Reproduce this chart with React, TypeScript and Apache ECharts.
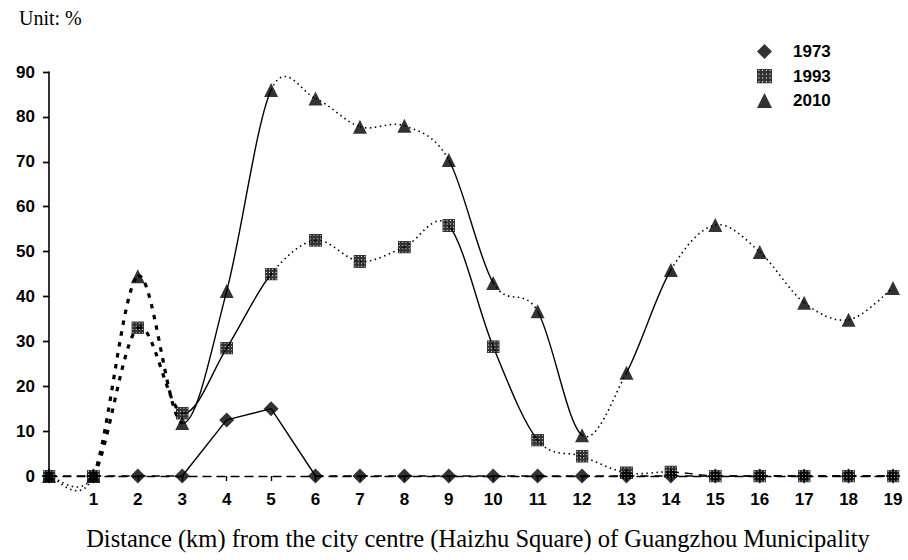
import React, { useEffect, useRef } from "react";
import * as echarts from "echarts";

// Distance from city centre (km)
const distances = [0, 1, 2, 3, 4, 5, 6, 7, 8, 9, 10, 11, 12, 13, 14, 15, 16, 17, 18, 19];
// Share (%) per year
const v1973 = [0, 0, 0, 0, 12.5, 15, 0, 0, 0, 0, 0, 0, 0, 0, 0, 0, 0, 0, 0, 0];
const v1993 = [0, 0, 33, 14, 28.5, 45, 52.5, 47.8, 51, 55.8, 28.8, 8, 4.4, 0.7, 0.9, 0, 0, 0, 0, 0];
const v2010 = [0, 0, 44.5, 11.8, 41.2, 86, 84.1, 77.8, 78, 70.4, 43, 36.7, 9.1, 23, 45.9, 55.9, 49.9, 38.6, 34.8, 41.9];
// line style of each segment (between point i and i+1)
const seg1973 = ["dash", "dash", "dash", "solid", "solid", "solid", "dash", "dash", "dash", "dash", "dash", "dash", "dash", "dash", "dash", "dash", "dash", "dash", "dash"];
const seg1993 = ["dot", "thick", "thick", "solid", "solid", "dot", "dot", "dot", "dot", "solid", "solid", "dot", "dot", "dot", "dash", "dash", "dash", "dash", "dash"];
const seg2010 = ["dot", "thick", "thick", "solid", "solid", "dot", "dot", "dot", "dot", "solid", "dot", "solid", "dot", "solid", "dot", "dot", "dot", "dot", "dot"];
const years = ["1973", "1993", "2010"];
const yTicks = { min: 0, max: 90, interval: 10 };

const LINE_STYLES: Record<string, { w: number; dash: number[] | null }> = {
  solid: { w: 1.4, dash: null },
  dash: { w: 1.4, dash: [8, 6] },
  dot: { w: 1.6, dash: [1.5, 3.5] },
  thick: { w: 3.2, dash: [4.5, 6.5] },
};

function patternSquare(): string {
  let s = "<svg xmlns='http://www.w3.org/2000/svg' width='12' height='12'><rect width='12' height='12' fill='#000'/>";
  for (let y = 1.5; y < 12; y += 3) {
    for (let x = 1.5; x < 12; x += 3) {
      s += `<circle cx='${x}' cy='${y}' r='0.5' fill='#fff'/>`;
    }
  }
  s += "</svg>";
  return "image://data:image/svg+xml;utf8," + encodeURIComponent(s);
}

function curveSeries(name: string, vals: number[], styles: string[], smooth: boolean) {
  const n = vals.length;
  return {
    type: "custom",
    name,
    silent: true,
    clip: false,
    z: 2,
    data: distances.map((d, i) => [d, vals[i]]),
    encode: { x: 0, y: 1 },
    renderItem: (params: any, api: any) => {
      const i = params.dataIndex;
      if (i >= n - 1) return null;
      const p = (k: number) => {
        const kk = Math.max(0, Math.min(n - 1, k));
        return api.coord([distances[kk], vals[kk]]);
      };
      const p0 = p(i - 1), p1 = p(i), p2 = p(i + 1), p3 = p(i + 2);
      const t = smooth ? 1 / 6 : 0;
      const st = LINE_STYLES[styles[i]];
      return {
        type: "bezierCurve",
        shape: {
          x1: p1[0], y1: p1[1], x2: p2[0], y2: p2[1],
          cpx1: p1[0] + (p2[0] - p0[0]) * t, cpy1: p1[1] + (p2[1] - p0[1]) * t,
          cpx2: p2[0] - (p3[0] - p1[0]) * t, cpy2: p2[1] - (p3[1] - p1[1]) * t,
        },
        style: { stroke: "#000", fill: null, lineWidth: st.w, lineDash: st.dash },
      };
    },
  };
}

export default function App() {
  const ref = useRef<HTMLDivElement>(null);
  useEffect(() => {
    if (!ref.current) return;
    const chart = echarts.init(ref.current, null, { renderer: "svg" });
    const sq = patternSquare();
    const sans = "Liberation Sans, Arial, sans-serif";
    const serif = "Liberation Serif, Times New Roman, serif";
    const xBase = { type: "value", min: 0, max: 19, interval: 1, splitLine: { show: false } };
    const yBase = { type: "value", ...yTicks, splitLine: { show: false } };
    chart.setOption({
      animation: false,
      backgroundColor: "#fff",
      title: {
        text: "Unit: %",
        left: 14,
        top: 3,
        textStyle: { fontFamily: serif, fontSize: 20, fontWeight: "normal", color: "#000" },
      },
      legend: {
        orient: "vertical",
        left: 752,
        top: 38,
        itemWidth: 15,
        itemHeight: 15,
        itemGap: 7.5,
        selectedMode: false,
        textStyle: { fontFamily: sans, fontSize: 17, fontWeight: "bold", color: "#000", padding: [0, 0, 0, 16] },
        data: [
          { name: years[0], icon: "diamond" },
          { name: years[1], icon: sq },
          { name: years[2], icon: "triangle" },
        ],
      },
      grid: { left: 49, right: 15, top: 72, bottom: 84, containLabel: false },
      xAxis: [
        {
          ...xBase,
          name: "Distance (km) from the city centre (Haizhu Square) of Guangzhou Municipality",
          nameLocation: "middle",
          nameGap: 50,
          nameTextStyle: { fontFamily: serif, fontSize: 24.5, color: "#000", padding: [0, 0, 0, 14] },
          axisLine: { show: true, lineStyle: { color: "#000", width: 1.4, type: [8, 6] } },
          axisTick: { show: true, length: 5, lineStyle: { color: "#000", width: 1.2 } },
          axisLabel: {
            margin: 15,
            fontFamily: sans,
            fontSize: 17,
            fontWeight: "bold",
            color: "#000",
            formatter: (v: number) => (v === 0 ? "" : String(v)),
          },
        },
        {
          ...xBase,
          axisLine: { show: false },
          axisTick: { show: true, inside: true, length: 5, lineStyle: { color: "#000", width: 1.2 } },
          axisLabel: { show: false },
        },
      ],
      yAxis: [
        {
          ...yBase,
          axisLine: { show: true, lineStyle: { color: "#000", width: 1.6 } },
          axisTick: { show: true, length: 6, lineStyle: { color: "#000", width: 1.4 } },
          axisLabel: { margin: 14, fontFamily: sans, fontSize: 17, fontWeight: "bold", color: "#000" },
        },
        {
          ...yBase,
          axisLine: { show: false },
          axisTick: { show: true, inside: true, length: 6, lineStyle: { color: "#000", width: 1.4 } },
          axisLabel: { show: false },
        },
      ],
      series: [
        curveSeries("c1973", v1973, seg1973, false),
        curveSeries("c1993", v1993, seg1993, true),
        curveSeries("c2010", v2010, seg2010, true),
        {
          type: "scatter",
          name: years[0],
          symbol: "diamond",
          symbolSize: [15, 15],
          itemStyle: { color: "#000" },
          z: 5,
          data: distances.map((d, i) => [d, v1973[i]]),
        },
        {
          type: "scatter",
          name: years[1],
          symbol: sq,
          symbolSize: [13, 13],
          itemStyle: { color: "#000" },
          z: 6,
          data: distances.map((d, i) => [d, v1993[i]]),
        },
        {
          type: "scatter",
          name: years[2],
          symbol: "triangle",
          symbolSize: [14, 14],
          itemStyle: { color: "#000" },
          z: 7,
          data: distances.map((d, i) => [d, v2010[i]]),
        },
      ],
    });
    return () => chart.dispose();
  }, []);
  return <div ref={ref} style={{ position: "absolute", left: 0, top: 0, width: 908, height: 560 }} />;
}
